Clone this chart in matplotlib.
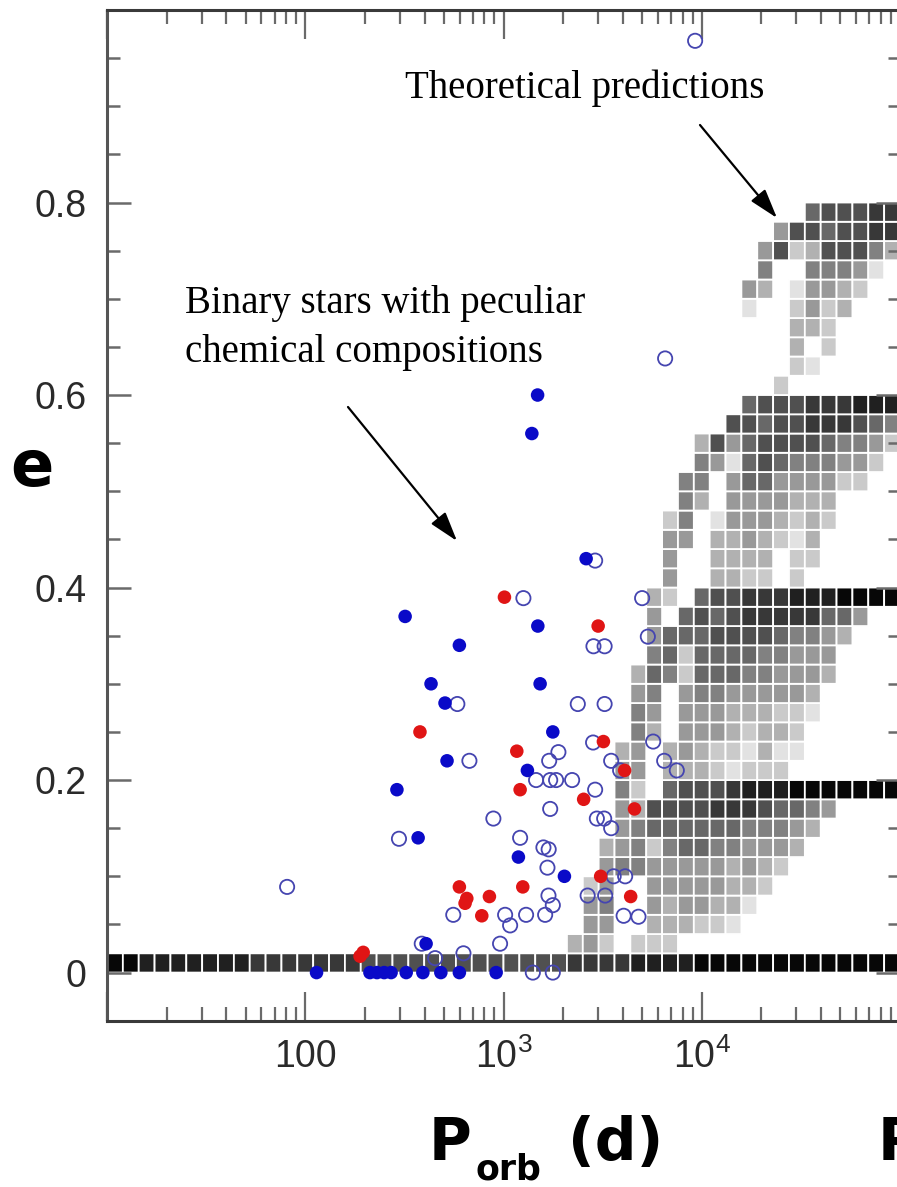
import numpy as np
import matplotlib
matplotlib.use('Agg')
import matplotlib.pyplot as plt

W, H, DPI = 897, 1187, 100

# ---------------- data ----------------
# theoretical prediction grid: rows e = 0.01 + 0.02*j, columns log10(P) bins of 0.08 dex from 10 d
# digits = grey level (0 black ... 9 very light), '.' = empty.  Rows j=39 (top) .. j=1, columns k=28..49
grid_rows_top = [
    "................433322",
    "..............63343322",
    ".............638733357",
    ".............5..55569.",
    "............67.96678..",
    "............9..8687...",
    "...............778....",
    "...............7.8....",
    "...............89.....",
    "..............8.......",
    "............4333222111",
    "...........33433222345",
    ".........7364333345568",
    ".........569434555668.",
    "........55.644666688..",
    "........57.6666777....",
    ".......85.96667878....",
    ".......66.7767897.....",
    ".......6..7777.88.....",
    ".......6..7788.8......",
    "......78.4332221110000",
    "......6.434322222446..",
    "......6444333345567...",
    "......548444455666....",
    ".....7458444556667....",
    ".....65.655666667.....",
    ".....56.666777889.....",
    ".....57.66678778......",
    "....76.767889799......",
    "....66.77789888.......",
    "....58.433321110000000",
    "....67333322234456....",
    "....6544444455567.....",
    "...7658544556667......",
    "...655666667678.......",
    "..86..66666778........",
    "..65..6766779.........",
    "..66..777889..........",
    ".768.888..............",
]
grid_row_bottom = "00111111122222223333333333333222211110000000000000"
grid_first_col = 28
n_cols, n_rows = 50, 40

# observed binaries: orbital period (d) and eccentricity
blue_filled_P = [1486, 1390, 2611, 319, 1490, 599, 431, 1530, 507, 1773, 519, 1320,
                 290, 371, 1189, 2029, 407, 114, 212, 230, 250, 271, 323, 392, 483,
                 599, 918]
blue_filled_e = [0.60, 0.56, 0.43, 0.37, 0.36, 0.34, 0.30, 0.30, 0.28, 0.25, 0.22, 0.21,
                 0.19, 0.14, 0.12, 0.10, 0.03, 0.0, 0.0, 0.0, 0.0, 0.0, 0.0, 0.0, 0.0,
                 0.0, 0.0]

red_P = [189, 196, 379, 1011, 1167, 1213, 3002, 3191, 4083, 2537, 4578, 599, 1251,
         3091, 653, 640, 849, 4380, 777]
red_e = [0.017, 0.021, 0.25, 0.39, 0.23, 0.19, 0.36, 0.24, 0.21, 0.18, 0.17, 0.089,
         0.089, 0.10, 0.077, 0.072, 0.079, 0.079, 0.059]

open_P = [9259, 6536, 2899, 1260, 5003, 2843, 3236, 5346, 585, 2370, 3236, 1892, 2831,
          5687, 673, 1700, 3492, 6464, 3875, 7484, 1460, 1720, 1842, 2219, 2899, 1720,
          889, 2957, 3220, 3492, 1213, 1590, 1690, 1666, 3594, 4108, 1686, 1773, 2657,
          3257, 558, 1019, 1080, 1300, 1622, 4036, 4796, 961, 628, 1406, 1773, 81,
          297, 387, 452]
open_e = [0.968, 0.638, 0.428, 0.389, 0.389, 0.339, 0.339, 0.349, 0.279, 0.279, 0.279,
          0.229, 0.239, 0.24, 0.22, 0.22, 0.22, 0.22, 0.21, 0.21, 0.20, 0.20, 0.20, 0.20,
          0.19, 0.17, 0.16, 0.16, 0.16, 0.15, 0.14, 0.13, 0.128, 0.109, 0.10, 0.10, 0.08,
          0.07, 0.08, 0.08, 0.06, 0.06, 0.049, 0.06, 0.06, 0.059, 0.058, 0.03, 0.02,
          0.0, 0.0, 0.089, 0.139, 0.03, 0.015]

x_major = [10, 100, 1e3, 1e4, 1e5]
x_major_labels = ['', '100', r'$\mathregular{10^3}$', r'$\mathregular{10^4}$', '']
y_major = [0, 0.2, 0.4, 0.6, 0.8]
y_major_labels = ['0', '0.2', '0.4', '0.6', '0.8']

# ---------------- build grid ----------------
C = np.full((n_rows, n_cols), np.nan)
for idx, row in enumerate(grid_rows_top):
    j = n_rows - 1 - idx
    for i, ch in enumerate(row):
        if ch != '.':
            C[j, grid_first_col + i] = 0.03 + 0.095 * int(ch)
for k, ch in enumerate(grid_row_bottom):
    C[0, k] = 0.03 + 0.095 * int(ch)
Cm = np.ma.masked_invalid(C)
x_edges = 10 ** (1 + 0.08 * np.arange(n_cols + 1))
y_edges = 0.02 * np.arange(n_rows + 1)

# ---------------- figure ----------------
fig = plt.figure(figsize=(W / DPI, H / DPI), dpi=DPI)
def fx(px): return px / W
def fy(py): return 1 - py / H

ax = fig.add_axes([fx(107), fy(1020.7), fx(900) - fx(107), fy(10) - fy(1020.7)])
ax.set_xscale('log')
ax.set_xlim(10, 1e5)
ax.set_ylim(-0.05, 1.0)

ax.pcolor(x_edges, y_edges, Cm, cmap='gray', vmin=0, vmax=1,
          edgecolors='white', linewidth=1.3, zorder=1)

ax.scatter(open_P, open_e, s=105, facecolors='none', edgecolors='#4545b0',
           linewidths=1.3, zorder=3)
ax.scatter(blue_filled_P, blue_filled_e, s=95, color='#0a0ac8', edgecolors='none', zorder=4)
ax.scatter(red_P, red_e, s=95, color='#e01515', edgecolors='none', zorder=5)

# ticks
ax.set_xticks(x_major, labels=x_major_labels)
minor_x = [m * 10 ** d for d in range(1, 5) for m in range(2, 10)]
ax.set_xticks(minor_x, minor=True)
ax.set_xticklabels([], minor=True)
ax.set_yticks(y_major, labels=y_major_labels)
ax.set_yticks([v for v in np.round(np.arange(-0.05, 1.0, 0.05), 2) if v not in y_major], minor=True)

tick_col = '#6a6a6a'
ax.tick_params(axis='both', which='both', direction='in', top=True, right=True,
               colors=tick_col, labelcolor='#2a2a2a')
ax.tick_params(axis='x', which='major', length=21, width=1.6, pad=13, labelsize=27)
ax.tick_params(axis='x', which='minor', length=10, width=1.6)
ax.tick_params(axis='y', which='major', length=17, width=1.8, pad=15, labelsize=27)
ax.tick_params(axis='y', which='minor', length=9, width=1.8)
for lab in ax.get_xticklabels() + ax.get_yticklabels():
    lab.set_family('Liberation Sans')

for side, sp in ax.spines.items():
    sp.set_color('#3a3a3a')
    sp.set_linewidth(2.2)
ax.spines['left'].set_color('#555555')

# annotations
serif = 'Liberation Serif'
fig.text(fx(405), fy(98), 'Theoretical predictions', family=serif, fontsize=28,
         ha='left', va='baseline')
fig.text(fx(185), fy(313), 'Binary stars with peculiar', family=serif, fontsize=28,
         ha='left', va='baseline')
fig.text(fx(185), fy(362), 'chemical compositions', family=serif, fontsize=28,
         ha='left', va='baseline')
arrow = dict(arrowstyle='-|>,head_length=0.9,head_width=0.28', mutation_scale=20,
             lw=1.6, color='black', shrinkA=0, shrinkB=0)
ax.annotate('', xy=(fx(777), fy(218)), xytext=(fx(700), fy(125)),
            xycoords='figure fraction', textcoords='figure fraction', arrowprops=arrow)
ax.annotate('', xy=(fx(457), fy(541)), xytext=(fx(348), fy(407)),
            xycoords='figure fraction', textcoords='figure fraction', arrowprops=arrow)

# axis labels
bold = dict(family='DejaVu Sans', fontweight='bold', color='black')
fig.text(fx(32), fy(468), 'e', fontsize=46, ha='center', va='center', **bold)
fig.text(fx(429), fy(1160), 'P', fontsize=42, ha='left', va='baseline', **bold)
fig.text(fx(475), fy(1180), 'orb', fontsize=25, ha='left', va='baseline', **bold)
fig.text(fx(568), fy(1160), '(d)', fontsize=42, ha='left', va='baseline', **bold)
# start of the neighbouring panel's axis label, cut by the right edge as in the source
fig.text(fx(878), fy(1160), 'P', fontsize=42, ha='left', va='baseline', **bold)

fig.savefig('out.png', dpi=DPI)
